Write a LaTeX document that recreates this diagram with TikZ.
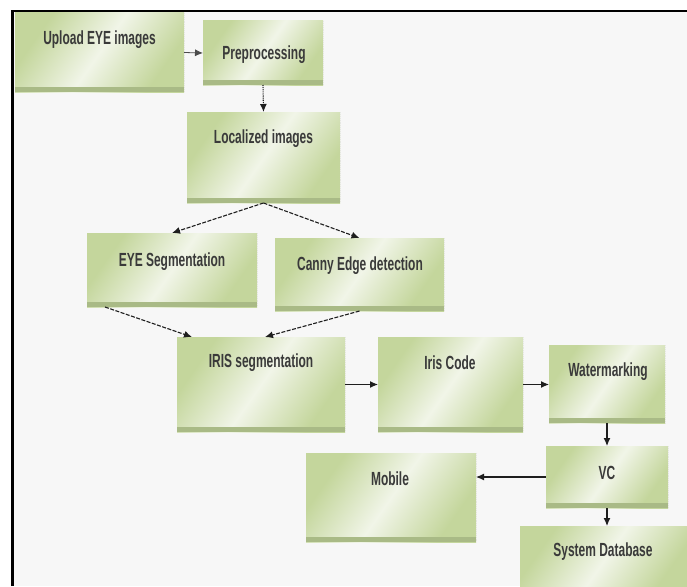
\documentclass[tikz,border=0pt]{standalone}
\usepackage{fontspec}
\setmainfont{Liberation Sans}[FakeStretch=0.63]
\usetikzlibrary{arrows.meta,calc}
\definecolor{bgc}{HTML}{F7F7F7}
\definecolor{gA}{HTML}{C4D69C}
\definecolor{gB}{HTML}{F1F5E8}
\definecolor{gS}{HTML}{A9BA86}
\definecolor{txt}{HTML}{3A3A3A}
\definecolor{arr}{HTML}{1E1E1E}
\pgfdeclarehorizontalshading{boxshade}{100bp}{color(0bp)=(gA); color(27bp)=(gA); color(50bp)=(gB); color(73bp)=(gA); color(100bp)=(gA)}
\tikzset{
  box/.style={shading=boxshade, shading angle=-35, inner sep=0pt, outer sep=0pt,
    path picture={
      \fill[gS] (path picture bounding box.south west) rectangle ([yshift=5pt]path picture bounding box.south east);
      \draw[densely dotted, gray!80, line width=0.9pt] (path picture bounding box.north east) -- (path picture bounding box.south east);
    }},
  lbl/.style={text=txt, font=\fontsize{19}{22}\selectfont\bfseries, inner sep=0pt},
  arrow/.style={draw=arr, line width=1.1pt, -{Latex[length=8pt,width=7pt]}},
  dashedarrow/.style={arrow, dash pattern=on 4pt off 1.5pt},
}
\begin{document}
\begin{tikzpicture}[x=1pt,y=-1pt]
\useasboundingbox (0,0) rectangle (687,586);
\clip (0,0) rectangle (687,586);
\fill[white] (0,0) rectangle (687,586);
\fill[bgc] (12,10) rectangle (687,586);
\draw[black, line width=2.5pt] (12.5,586) -- (12.5,11) -- (687,11);

% boxes
\node[box, minimum width=169pt, minimum height=79pt] (up)   at (99.5,52.5) {};
\node[box, minimum width=120pt, minimum height=64pt] (pre)  at (263,53) {};
\node[box, minimum width=153pt, minimum height=91pt] (loc)  at (263.5,157.5) {};
\node[box, minimum width=170pt, minimum height=74pt] (eye)  at (172,270) {};
\node[box, minimum width=169pt, minimum height=73pt] (can)  at (359.5,274.5) {};
\node[box, minimum width=168pt, minimum height=95pt] (iris) at (261,384.5) {};
\node[box, minimum width=145pt, minimum height=95pt] (code) at (450.5,384.5) {};
\node[box, minimum width=116pt, minimum height=78pt] (wm)   at (607,384) {};
\node[box, minimum width=122pt, minimum height=62pt] (vc)   at (607,477) {};
\node[box, minimum width=170pt, minimum height=89pt] (mob)  at (391,497.5) {};
\node[box, minimum width=170pt, minimum height=66pt] (db)   at (605,559) {};

% labels
\node[lbl] (tup)   at (99.5,40) {Upload EYE images};
\node[lbl] (tpre)  at (264,55) {Preprocessing};
\node[lbl] (tloc)  at (263.5,139) {Localized images};
\node[lbl] (teye)  at (172,262) {EYE Segmentation};
\node[lbl] (tcan)  at (360,266) {Canny Edge detection};
\node[lbl] (tiris) at (261,363) {IRIS segmentation};
\node[lbl] (tcode) at (450,363) {Iris Code};
\node[lbl] (twm)   at (608,372) {Watermarking};
\node[lbl] (tvc)   at (607,473) {VC};
\node[lbl] (tmob)  at (390,479) {Mobile};
\node[lbl] (tdb)   at (603,552) {System Database};

% connectors
\draw[arrow, line width=0.8pt, draw=gray!60!black] (up.east) -- (pre.west);
\draw[arrow, densely dotted] (pre.south) -- (loc.north);
\draw[dashedarrow] (loc.south) -- (eye.north);
\draw[dashedarrow] (loc.south) -- (can.north);
\draw[dashedarrow] ($(eye.south west)+(18,0)$) -- ($(iris.north west)+(15,0)$);
\draw[dashedarrow] (can.south) -- ($(iris.north)+(4,0)$);
\draw[arrow] (iris.east) -- (code.west);
\draw[arrow] (code.east) -- (code.east -| wm.west);
\draw[arrow] (wm.south) -- (vc.north);
\draw[arrow] (vc.west) -- (vc.west -| mob.east);
\draw[arrow] (vc.south) -- (vc.south |- db.north);
\end{tikzpicture}
\end{document}
